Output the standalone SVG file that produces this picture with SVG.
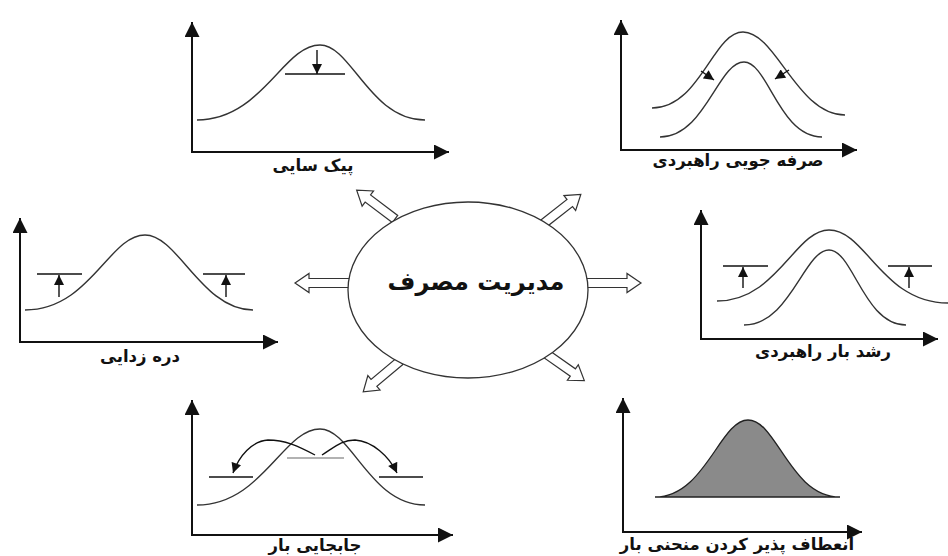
<svg xmlns="http://www.w3.org/2000/svg" xmlns:xlink="http://www.w3.org/1999/xlink" width="948" height="556" viewBox="0 0 948 556">
<style>
.ax{stroke:#111;stroke-width:2;fill:none}
.cv{stroke:#333;stroke-width:1.4;fill:none}
.lv{stroke:#111;stroke-width:1.4;fill:none}
.ha{fill:#fff;stroke:#333;stroke-width:1.2}
.lb{font-family:"DejaVu Sans",sans-serif;font-size:16.5px;font-weight:bold;fill:#111;text-anchor:middle}
.ct{font-family:"DejaVu Sans",sans-serif;font-size:24px;font-weight:bold;fill:#111;text-anchor:middle}
</style>
<defs>
<marker id="axh" viewBox="0 0 10 10" refX="10" refY="5" markerWidth="15" markerHeight="15" markerUnits="userSpaceOnUse" orient="auto"><path d="M0,0 L10,5 L0,10 Z" fill="#111"/></marker>
<marker id="smh" viewBox="0 0 10 10" refX="10" refY="5" markerWidth="11" markerHeight="10" markerUnits="userSpaceOnUse" orient="auto"><path d="M0,0 L10,5 L0,10 Z" fill="#111"/></marker>
<path id="h56" class="ha" d="M0,-4.5 H42 V-9.5 L56,0 L42,9.5 V4.5 H0 Z"/>
<path id="h48" class="ha" d="M0,-4.5 H34 V-9.5 L48,0 L34,9.5 V4.5 H0 Z"/>
</defs>
<rect width="948" height="556" fill="#fff"/>

<g id="connectors">
<use href="#h56" transform="translate(351,283) rotate(180)"/>
<use href="#h56" transform="translate(585,283)"/>
<use href="#h48" transform="translate(395,219) rotate(-143)"/>
<use href="#h48" transform="translate(543,224) rotate(-38)"/>
<use href="#h48" transform="translate(400,361) rotate(140)"/>
<use href="#h48" transform="translate(545,353) rotate(35)"/>
</g>

<g id="center">
<ellipse cx="468" cy="290" rx="120" ry="88" fill="#fff" stroke="#333" stroke-width="1.3"/>
<text class="ct" x="476" y="290">مدیریت مصرف</text>
</g>

<g id="peak-clipping">
<line class="ax" x1="192" y1="152" x2="192" y2="22" marker-end="url(#axh)"/>
<line class="ax" x1="191" y1="152" x2="449" y2="152" marker-end="url(#axh)"/>
<path class="cv" d="M197,120 C262,120 283,45 320,45 C351.5,45 370,120 425,120"/>
<line class="lv" x1="285" y1="74" x2="345" y2="74" stroke="#555"/>
<line class="lv" x1="317" y1="50" x2="317" y2="74" marker-end="url(#smh)"/>
<text class="lb" x="313" y="171">پیک سایی</text>
</g>

<g id="strategic-conservation">
<line class="ax" x1="621" y1="150" x2="621" y2="20" marker-end="url(#axh)"/>
<line class="ax" x1="620" y1="150" x2="857" y2="150" marker-end="url(#axh)"/>
<path class="cv" d="M652,108 C700,108 713,32 743,32 C776,32 797,115 845,115"/>
<path class="cv" d="M660,137 C705,137 718,62 744,62 C768,62 779,137 822,137"/>
<line class="lv" x1="701" y1="71" x2="714" y2="80" marker-end="url(#smh)"/>
<line class="lv" x1="789" y1="70" x2="775" y2="79" marker-end="url(#smh)"/>
<text class="lb" x="738" y="166">صرفه جویی راهبردی</text>
</g>

<g id="valley-filling">
<line class="ax" x1="20" y1="342" x2="20" y2="218" marker-end="url(#axh)"/>
<line class="ax" x1="19" y1="342" x2="278" y2="342" marker-end="url(#axh)"/>
<path class="cv" d="M25,310 C90,310 109,235 145,235 C178,235 202,310 253,310"/>
<line class="lv" x1="37" y1="274" x2="82" y2="274"/>
<line class="lv" x1="203" y1="274" x2="245" y2="274"/>
<line class="lv" x1="59" y1="297" x2="59" y2="275" marker-end="url(#smh)"/>
<line class="lv" x1="226" y1="297" x2="226" y2="275" marker-end="url(#smh)"/>
<text class="lb" x="140" y="362">دره زدایی</text>
</g>

<g id="strategic-load-growth">
<line class="ax" x1="701" y1="339" x2="701" y2="210" marker-end="url(#axh)"/>
<line class="ax" x1="700" y1="339" x2="938" y2="339" marker-end="url(#axh)"/>
<path class="cv" d="M717,301 C777,301 795,230 829,230 C866,230 882,303 948,303"/>
<path class="cv" d="M744,325 C790,325 804,250 829,250 C853,250 864,325 906,325"/>
<line class="lv" x1="723" y1="266" x2="768" y2="266"/>
<line class="lv" x1="888" y1="266" x2="932" y2="266"/>
<line class="lv" x1="743" y1="288" x2="743" y2="267" marker-end="url(#smh)"/>
<line class="lv" x1="909" y1="288" x2="909" y2="267" marker-end="url(#smh)"/>
<text class="lb" x="823" y="357">رشد بار راهبردی</text>
</g>

<g id="load-shifting">
<line class="ax" x1="192" y1="535" x2="192" y2="400" marker-end="url(#axh)"/>
<line class="ax" x1="191" y1="535" x2="453" y2="535" marker-end="url(#axh)"/>
<path class="cv" d="M197,505 C262,505 283,429 320,429 C351.5,429 370,505 425,505"/>
<line x1="287" y1="458" x2="344" y2="458" stroke="#999" stroke-width="1.6"/>
<line class="lv" x1="209" y1="477" x2="253" y2="477"/>
<line class="lv" x1="379" y1="477" x2="423" y2="477"/>
<path class="lv" d="M315,455 C298,446 285,440 268,440 C252,441 239,456 233,473" marker-end="url(#smh)"/>
<path class="lv" d="M322,455 C336,446 342,440 355,440 C372,441 389,456 397,473" marker-end="url(#smh)"/>
<text class="lb" x="315" y="551">جابجایی بار</text>
</g>

<g id="load-shape-flexibility">
<line class="ax" x1="623" y1="532" x2="623" y2="398" marker-end="url(#axh)"/>
<line class="ax" x1="622" y1="532" x2="862" y2="532" marker-end="url(#axh)"/>
<path d="M655,497 C705,497 720,420 748,420 C777,420 790,497 840,497 Z" fill="#8a8a8a" stroke="#222" stroke-width="1.3"/>
<text class="lb" x="737" y="550">انعطاف پذیر کردن منحنی بار</text>
</g>
</svg>
